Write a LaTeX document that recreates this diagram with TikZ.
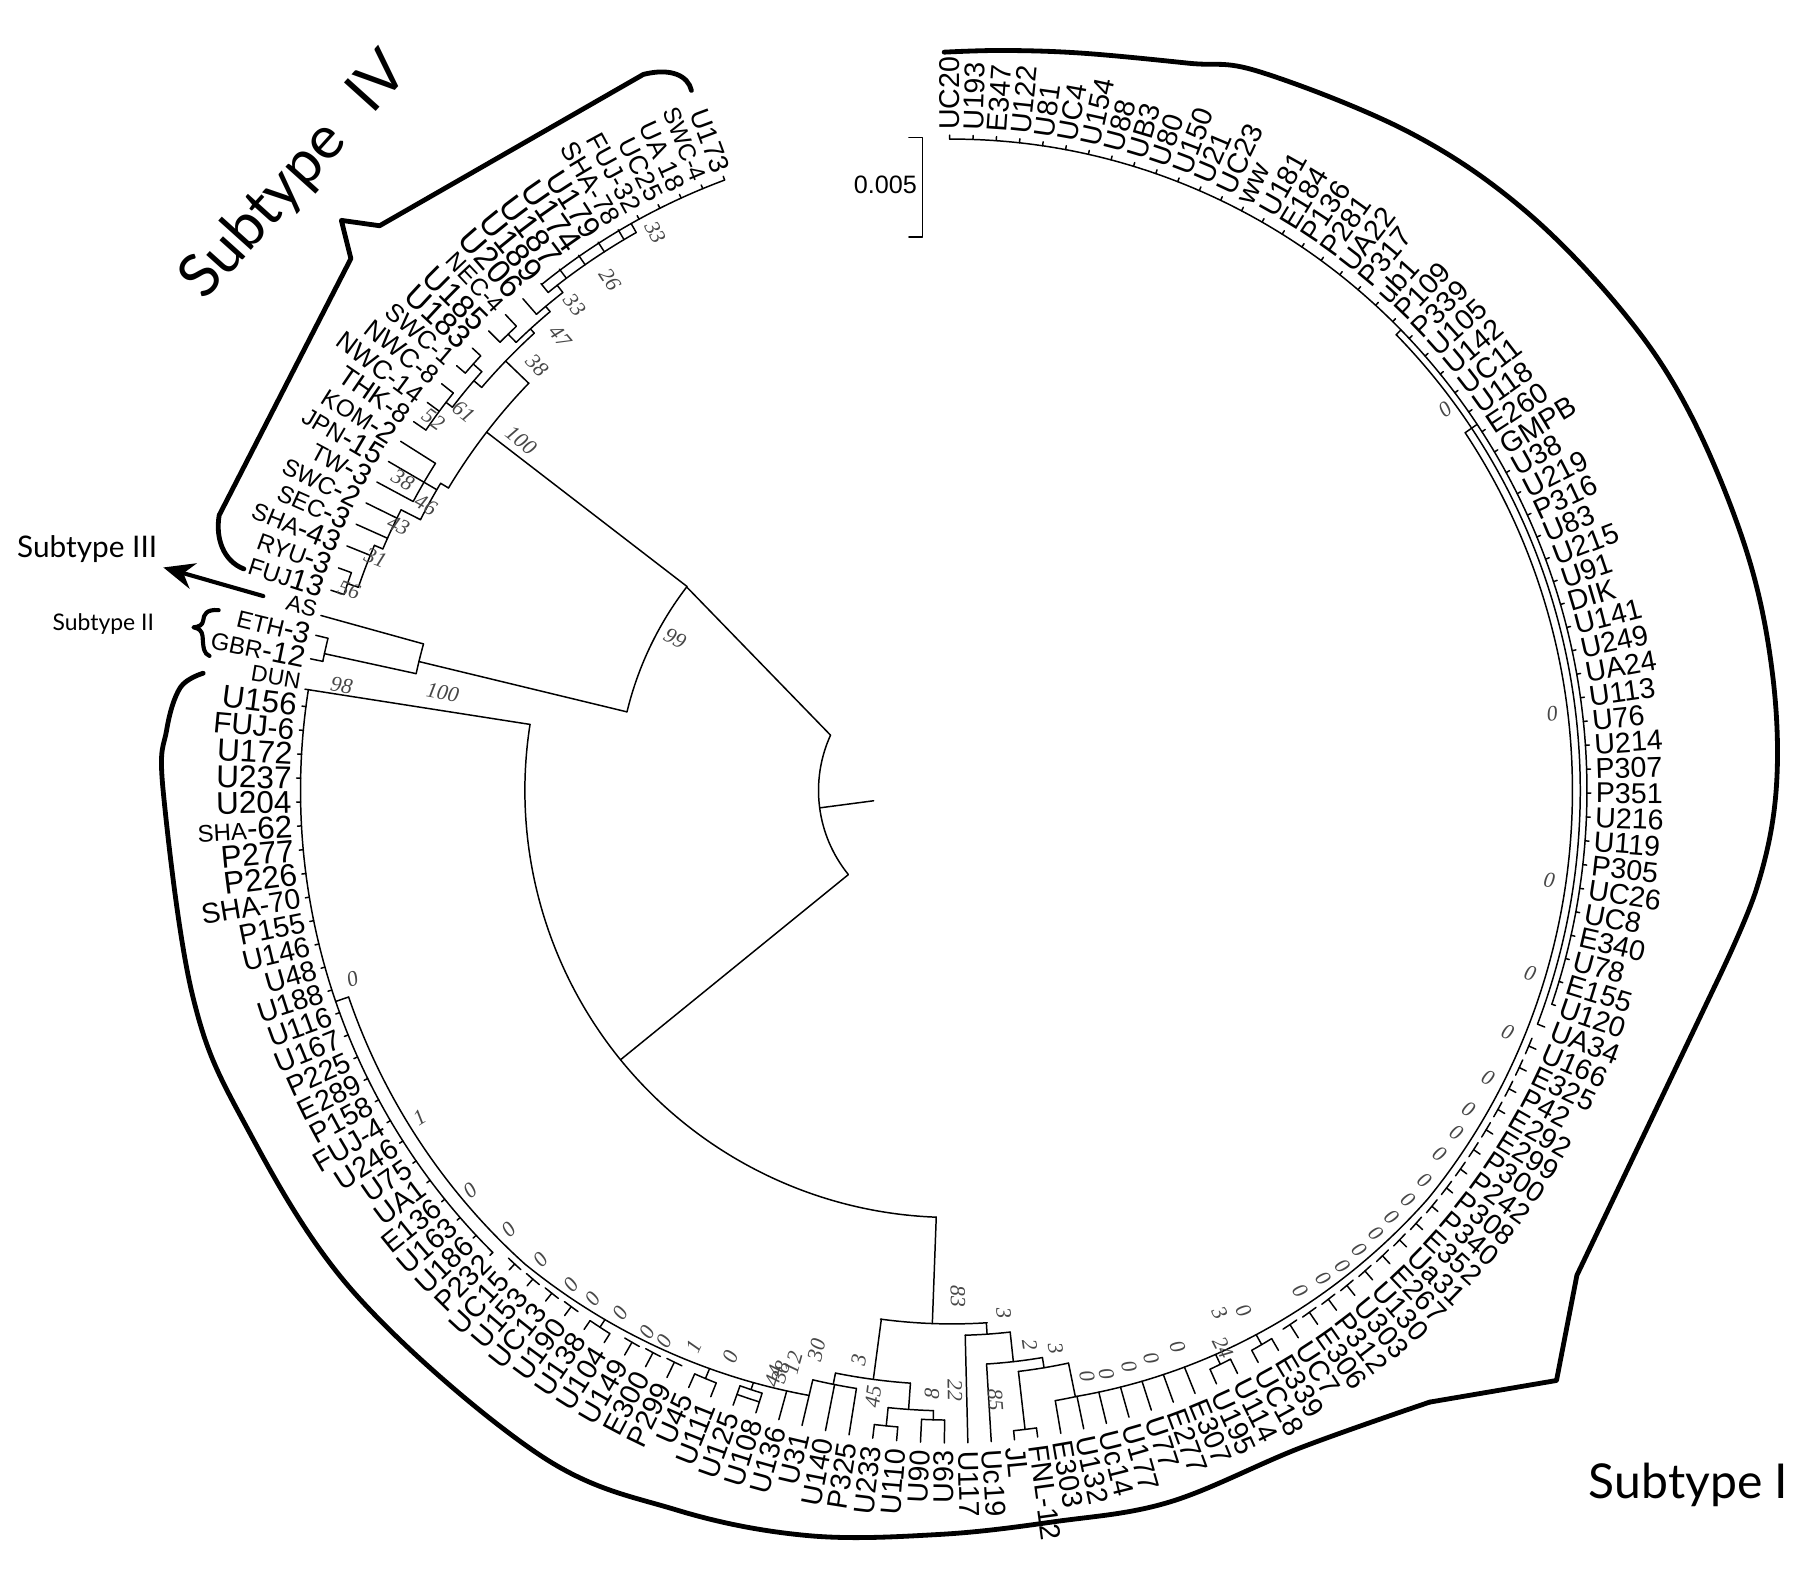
\documentclass[tikz,border=0pt]{standalone}
\usepackage{fontspec}
\setmainfont{Liberation Sans}
\newfontfamily\lf{Liberation Sans}
\newfontfamily\bsf{Liberation Serif}
\newfontfamily\subf{Lato}
\usetikzlibrary{arrows.meta}
\newcommand\sm[1]{{\fontsize{21}{21}\selectfont #1}}
\newcount\bsn
\newcommand\tArc[3]{\draw[br] (#1:#3) arc[start angle=#1,end angle=#2,radius=#3];}
\newcommand\tRad[3]{\draw[br] (#1:#2) -- (#1:#3);}
\newcommand\tT[2]{\draw[br] (#1:#2) -- (#1:570);\draw[br] ({#1-0.75}:#2) arc[start angle={#1-0.75},end angle={#1+0.75},radius=#2];}
\newcommand\tBs[3]{\global\advance\bsn by 1
  \pgfmathsetmacro\rr{cos(#1)<0 ? #1+180 : #1}%
  \node[bsv, rotate=\rr] (bs\the\bsn) at (#1:#2) {#3};}
\begin{document}
\begin{tikzpicture}[x=1pt,y=-1pt,line cap=round,line join=round]
\tikzset{
 br/.style={line width=1.3pt},
 lab/.style={inner sep=0pt,outer sep=0pt},
 bsv/.style={inner sep=0pt,font=\bsf\itshape\fontsize{19}{19}\selectfont,text=black!72},
 thick4/.style={line width=4.2pt},
}
\useasboundingbox (0,0) rectangle (1568,1380);
\fill[white] (0,0) rectangle (1568,1380);

% ---------- scale bar ----------
\draw[line width=1.3pt] (794,120) -- (806,120) -- (806,207) -- (794,207);
\node[lab,font=\lf\fontsize{22}{22}\selectfont,anchor=east] (scaletxt) at (801,161.5) {0.005};

% ---------- subtype labels ----------
\node[lab,font=\subf\fontsize{52}{52}\selectfont,rotate=48] (s4) at (258,154) {Subtype\hspace{0.35em} IV};
\node[lab,font=\subf\fontsize{42}{42}\selectfont,anchor=base west] (s1) at (1388,1309) {Subtype I};
\node[lab,font=\subf\fontsize{26}{26}\selectfont,anchor=base west] (s3) at (15,487) {Subtype III};
\node[lab,font=\subf\fontsize{20}{20}\selectfont,anchor=base west] (s2) at (46,551) {Subtype II};

% arrow to subtype III
\coordinate (arrA) at (230,520.7);
\coordinate (arrB) at (142.7,495.7);
\draw[line width=3.6pt,-{Stealth[length=27pt,width=23pt]}] (arrA) -- (arrB);

% brace subtype II
\draw[line width=3.6pt] (191,533) .. controls (180,532) and (178,537) .. (177.5,542) .. controls (177,546) and (174,547.5) .. (169,548) .. controls (174,549) and (176.5,551) .. (177,556) .. controls (177.5,566) and (178,571) .. (183,573);

% bracket subtype IV
\draw[thick4] (604,79) .. controls (601,66) and (586,59) .. (562,65) -- (331.6,197.2) -- (298.2,192.5) -- (306.5,225.9) -- (191.5,450) .. controls (188,470) and (195,490) .. (213,497);

% =================== left part of the tree ===================
\begin{scope}[shift={(831.5,690.5)},y={(0pt,1pt)}]
% ---------- subtype I bracket ----------
\draw[thick4] plot[smooth,tension=0.6] coordinates {(90.6:645) (86:648) (80:654) (72:668) (66.8:683) (55.3:700) (45.6:712) (35.5:720) (27:724) (16.7:725) (8:724) (0:720) (-7:708) (-14.4:688)};
\draw[thick4] (-14.4:688) -- (-37.8:691) -- (-44.3:738) -- (-52:678);
\draw[thick4] plot[smooth,tension=0.6] coordinates {(-52:678) (-62:650) (-73:650) (-82:645) (-91:650) (-101:663) (-111:673) (-122:683) (-140:682) (-155:683) (-165:687) (-180:689) (-184.4:688) (-187.6:680) (-188.9:662)};

% ---------- backbone ----------
\tRad{187.5}{69}{116.5}
\tArc{155.5}{219.1}{116.5}
\draw[br] (155.5:116.5) -- (142.5:292);
\tArc{142.5}{166.4}{292}
\tRad{219.1}{116.5}{373}
\tArc{171.1}{267.9}{373}
\tRad{171.1}{373}{572}
\tRad{267.9}{373}{466}
\tArc{262.3}{273.8}{466}

% ---------- subtype II / III ----------
\tRad{166.4}{292}{479}
\tArc{164.5}{167.7}{479}
\tRad{164.5}{479}{572}
\tRad{167.7}{479}{561}
\tArc{166.29}{168.4}{561}
\tRad{166.29}{561}{572}\tRad{168.4}{561}{572}

% ---------- subtype IV ----------
\tRad{142.4}{292}{513}
\tArc{136.1}{149.0}{513}
\tRad{136.1}{513}{541}
\tArc{132.4}{139.4}{541}
\tRad{139.4}{541}{550}
\tArc{138.3}{142.5}{550}
\tRad{138.3}{550}{560}\tArc{137.31}{139.38}{560}
\tRad{137.31}{560}{570}\tRad{139.38}{560}{570}
\tRad{142.5}{550}{557}\tArc{141.44}{145.58}{557}
\tRad{141.44}{557}{570}\tRad{143.51}{557}{570}\tRad{145.58}{557}{570}
\tRad{132.4}{541}{546}
\tArc{130.0}{134.2}{546}
\tRad{134.2}{546}{556}\tArc{133.17}{135.23}{556}
\tRad{133.17}{556}{570}\tRad{135.23}{556}{570}
\tRad{130.0}{546}{552}\tArc{128.0}{131.10}{552}
\tRad{131.10}{552}{570}
\tRad{128.0}{552}{560}\tArc{119.5}{129.03}{560}
\foreach \t in {129.03,126.97,124.90,122.83,120.76}{\tRad{\t}{560}{570}}
\tRad{119.5}{560}{569}
\tArc{110.42}{129.03}{569}
\foreach \t in {118.70,116.63,114.56,112.49,110.42}{\tRad{\t}{569}{572.5}}
\tRad{149.0}{513}{521}
\tArc{149.0}{153.0}{521}
\tRad{149.72}{521}{534}\tArc{147.65}{151.79}{534}
\tRad{147.65}{534}{570}\tRad{149.72}{534}{570}\tRad{151.79}{534}{570}
\tRad{153.0}{521}{540}\tArc{153.0}{157.0}{540}
\tRad{153.86}{540}{570}\tRad{155.92}{540}{570}
\tRad{157.0}{540}{548}\tArc{157.0}{161.1}{548}
\tRad{157.99}{548}{570}
\tRad{161.1}{548}{558}\tArc{160.06}{162.13}{558}
\tRad{160.06}{558}{570}\tRad{162.13}{558}{570}

% ---------- subtype I : bottom (left of node 83) ----------
\tRad{262.4}{466}{519}
\tArc{258.7}{266.0}{519}
\tRad{258.7}{519}{529}
\tArc{256.72}{260.93}{529}
\tRad{258.83}{529}{570}\tRad{260.93}{529}{570}\tRad{256.72}{529}{570}
\tRad{266.0}{519}{542}
\tArc{264.1}{268.3}{542}
\tRad{264.1}{542}{558}\tArc{263.03}{265.14}{558}
\tRad{263.03}{558}{570}\tRad{265.14}{558}{570}
\tRad{268.3}{542}{550}\tArc{267.24}{269.34}{550}
\tRad{267.24}{550}{570}\tRad{269.34}{550}{570}

% ---------- subtype I : left side ----------
\tArc{171.1}{225.18}{569}
\foreach \i in {107,...,132}{\pgfmathsetmacro\t{90.2-2.103*\i}\draw[br] (\t:569) -- (\t:572.5);}
\tRad{198.9}{557}{569}
\tArc{198.9}{228}{557}
\draw[br] plot[domain=228:256.72,samples=40] (\x:{557-14*(\x-228)/28.72});
\foreach \i in {98,99,100,103,104,105,106}{\pgfmathsetmacro\t{450.2-2.103*\i}%
  \pgfmathsetmacro\rs{(\t<228)*557+(1-(\t<228))*(557-14*(\t-228)/28.72)+6}\tT{\t}{\rs}}
\tRad{236.75}{552.7}{560.7}\tArc{235.69}{237.80}{560.7}\tRad{235.69}{560.7}{570}\tRad{237.80}{560.7}{570}
\tRad{247.26}{547.6}{557}\tArc{246.21}{248.31}{557}\tRad{246.21}{557}{570}\tRad{248.31}{557}{570}
\tRad{251.47}{545.6}{552}\tArc{250.41}{252.52}{552}\tRad{250.41}{552}{560}\tRad{252.52}{552}{560}\tArc{250.41}{252.52}{560}
\tRad{250.41}{560}{570}\tRad{252.52}{560}{570}
\tRad{254.62}{544}{570}

% ---------- leaf labels (left half) ----------
\foreach \nm/\fs [count=\i from 86] in {U93/25, U90/25, U110/25, U233/25, P325/25, U140/25, U31/25, U136/25, U108/25, U125/25, U111/25, U45/25, P299/25, E300/25, U149/25, U104/25, U138/25, U190/25, UC13/25, U153/25, UC15/25, P232/25, U186/25, U163/25, E136/25, UA1/25, U75/25, U246/25, FUJ-4/25, P158/25, E289/25, P225/25, U167/25, U116/25, U188/25, U48/25, U146/25, P155/25, SHA-70/25, P226/27.5, P277/27.5, \sm{SHA}-62/27.5, U204/27.5, U237/27.5, U172/27.5, FUJ-6/26, U156/27.5, DUN/20, \sm{GBR}-12/26, \sm{ETH}-3/26, AS/20, \sm{FUJ}13/26, \sm{RYU}-3/26, \sm{SHA}-43/26, \sm{SEC}-3/26, \sm{SWC}-2/26, \sm{TW}-3/26, \sm{JPN}-15/26, \sm{KOM}-2/26, THK-8/24, NWC-14/23, NWC-8/23, SWC-1/22, U183/28, U185/28, NEC-4/21, U206/29, U189/29, U187/29, U174/29, U179/27, SHA-78/23, FUJ-32/23, UC25/23, UA 18/23, SWC-4/21, U173/24}{
  \pgfmathsetmacro\t{(\i<137)*(90.2-2.103*\i)+(\i>136)*(164.2-2.069*(\i-136))}
  \node[lab,font=\lf\fontsize{\fs}{\fs}\selectfont,anchor=east,rotate=\t-180] (l\i) at (\t:577) {\nm};
}

% ---------- bootstrap values (left part) ----------
\tBs{118.0}{552}{33}\tBs{123.8}{537}{26}\tBs{127.8}{537}{33}\tBs{130.8}{524}{47}
\tBs{134.3}{519}{38}\tBs{142.2}{540}{61}\tBs{144.4}{557}{52}\tBs{140.9}{485}{100}
\tBs{150.5}{551}{38}\tBs{151.5}{523}{46}\tBs{154.4}{536}{43}\tBs{158.0}{543}{31}
\tBs{161.6}{555}{56}\tBs{151.2}{276}{99}\tBs{170.2}{541}{98}\tBs{169.1}{453}{100}
\tBs{262.6}{534}{45}\tBs{260.7}{504}{3}\tBs{268.1}{527}{8}
\tBs{197.5}{549}{0}\tBs{211.6}{546}{1}\tBs{219.7}{547}{0}\tBs{224.7}{545}{0}\tBs{228.8}{545}{0}
\tBs{232.4}{545}{0}\tBs{234.8}{544}{0}\tBs{237.6}{541}{0}\tBs{240.6}{543}{0}\tBs{242.4}{543}{0}
\tBs{245.1}{536}{1}\tBs{248.6}{531}{0}\tBs{253.1}{535}{44}\tBs{253.6}{530}{38}\tBs{254.5}{519}{12}\tBs{256.4}{503}{30}
\end{scope}

% =================== right part of the tree ===================
\begin{scope}[shift={(831.5,690.5)},x={(0.975pt,0pt)},y={(0pt,1pt)}]
% ---------- bottom, right of node 83 ----------
\tRad{273.8}{466}{476}
\tArc{271.44}{276.3}{476}
\tRad{271.44}{476}{570}
\tRad{276.3}{476}{502}
\tArc{273.55}{279.3}{502}
\tRad{273.55}{502}{570}
\tRad{279.3}{502}{511}
\tArc{276.7}{281.8}{511}
\tRad{276.7}{511}{562}\tArc{275.65}{277.75}{562}
\tRad{275.65}{562}{570}\tRad{277.75}{562}{570}
\tRad{281.8}{511}{541}\tArc{279.86}{281.96}{541}
\tRad{279.86}{541}{570}\tRad{281.96}{541}{570}

% ---------- right side ----------
\draw[br] plot[domain=-78.04:-40,samples=40] (\x:{541+15*(\x+78.04)/38.04});
\tArc{-40}{34.2}{556}
\tRad{34.2}{556}{569}
\tArc{45}{-21.26}{563}
\tRad{45}{563}{569}
\tRad{-21.26}{563}{570}
\tArc{90.2}{-19.16}{569}
\foreach \i in {0,...,52}{\pgfmathsetmacro\t{90.2-2.103*\i}\draw[br] (\t:569) -- (\t:572.5);}
\foreach \i in {54,...,70}{\pgfmathsetmacro\t{90.2-2.103*\i}%
  \pgfmathsetmacro\rs{(\t<-40)*(541+15*(\t+78.04)/38.04)+(1-(\t<-40))*556+7}\tT{\t}{\rs}}
\tRad{-60.17}{548}{558}\tArc{-61.22}{-59.11}{558}\tRad{-61.22}{558}{570}\tRad{-59.11}{558}{570}
\tRad{-64.37}{546.4}{556}\tArc{-65.42}{-63.32}{556}\tRad{-65.42}{556}{570}\tRad{-63.32}{556}{570}
\foreach \i in {75,...,79}{\pgfmathsetmacro\t{90.2-2.103*\i}\pgfmathsetmacro\rs{541+15*(\t+78.04)/38.04}\tRad{\t}{\rs}{570}}

% ---------- leaf labels (right half) ----------
\foreach \nm [count=\i from 0] in {UC20, U193, E347, U122, U81, UC4, U154, U88, UB3, U80, U150, U21, UC23, ww, U181, E184, P136, P281, UA22, P317, ub1, P109, P339, U105, U142, UC11, U118, E260, GMPB, U38, U219, P316, U83, U215, U91, DIK, U141, U249, UA24, U113, U76, U214, P307, P351, U216, U119, P305, UC26, UC8, E340, U78, E155, U120, UA34, U166, E325, P42, E292, E299, P300, P242, P308, P340, E352, Ua31, E267, U130, U303, P312, E306, UC7, E339, UC18, U114, U195, E307, E277, U77, U177, Uc14, U132, E303, FNL-12, JL, Uc19, U117}{
  \pgfmathsetmacro\t{90.2-2.103*\i}
  \node[lab,font=\lf\fontsize{25}{25}\selectfont,anchor=west,rotate=\t] (l\i) at (\t:577) {\nm};
}

% ---------- bootstrap values (right part) ----------
\tBs{270.3}{524}{22}\tBs{270.7}{442}{83}\tBs{275.8}{459}{3}\tBs{274.2}{534}{85}\tBs{278.2}{489}{2}\tBs{280.8}{496}{3}
\tBs{37.0}{553}{0}\tBs{7.1}{542}{0}\tBs{-8.3}{541}{0}\tBs{-17.1}{542}{0}\tBs{-23}{541}{0}
\tBs{-27.6}{542}{0}\tBs{-31}{540}{0}\tBs{-33.5}{542}{0}\tBs{-36}{540}{0}\tBs{-38.8}{543}{0}
\tBs{-41.2}{543}{0}\tBs{-43.4}{542}{0}\tBs{-45.5}{542}{0}\tBs{-47.7}{543}{0}\tBs{-49.9}{543}{0}
\tBs{-52}{541}{0}\tBs{-54.4}{537}{0}\tBs{-60.1}{524}{0}\tBs{-62.3}{516}{3}\tBs{-63.5}{544}{24}
\tBs{-67.4}{526}{0}\tBs{-70.2}{527}{0}\tBs{-72.5}{528}{0}\tBs{-74.8}{528}{0}\tBs{-76.7}{526}{0}
\end{scope}
\end{tikzpicture}
\end{document}
